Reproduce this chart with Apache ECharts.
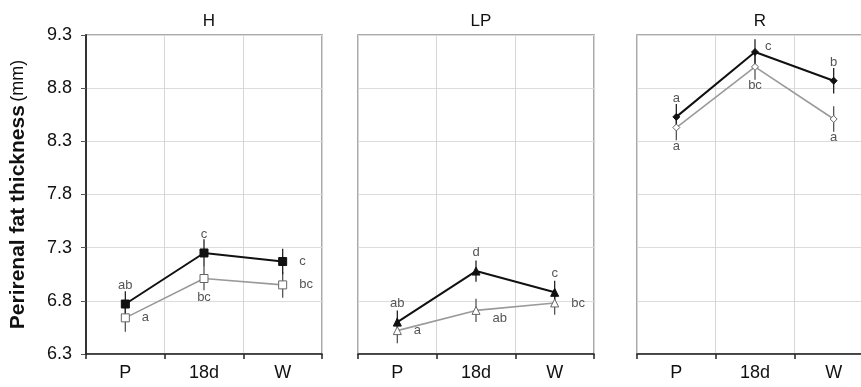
<!DOCTYPE html>
<html>
<head>
<meta charset="utf-8">
<script src="https://cdn.jsdelivr.net/npm/echarts@6/dist/echarts.min.js"></script>
<style>html,body{margin:0;padding:0;background:#fff}#c{width:861px;height:387px}</style>
</head>
<body>
<div id="c"></div>
<script>
const categories = ['P', '18d', 'W'];
const panelNames = ['H', 'LP', 'R'];
const yTicks = [6.3, 6.8, 7.3, 7.8, 8.3, 8.8, 9.3];
const yAxisTitle = 'Perirenal fat thickness';
const yAxisUnit = '(mm)';

const H_black = [6.77, 7.25, 7.17];
const H_blackErr = [0.12, 0.13, 0.12];
const H_grey = [6.64, 7.01, 6.95];
const H_greyErr = [0.13, 0.11, 0.12];
const H_blackLetters = ['ab', 'c', 'c'];
const H_greyLetters = ['a', 'bc', 'bc'];

const LP_black = [6.60, 7.08, 6.88];
const LP_blackErr = [0.11, 0.10, 0.11];
const LP_grey = [6.52, 6.71, 6.78];
const LP_greyErr = [0.12, 0.11, 0.11];
const LP_blackLetters = ['ab', 'd', 'c'];
const LP_greyLetters = ['a', 'ab', 'bc'];

const R_black = [8.53, 9.14, 8.87];
const R_blackErr = [0.12, 0.12, 0.12];
const R_grey = [8.43, 9.00, 8.51];
const R_greyErr = [0.12, 0.12, 0.12];
const R_blackLetters = ['a', 'c', 'b'];
const R_greyLetters = ['a', 'bc', 'a'];

// ---- styling / layout (not data) ----
const FONT = 'Liberation Sans, Arial, sans-serif';
const panels = [
  { name: panelNames[0], black: H_black, blackErr: H_blackErr, grey: H_grey, greyErr: H_greyErr,
    bl: H_blackLetters, gl: H_greyLetters, symbol: 'rect', size: 8,
    bPos: ['top', 'top', 'right'], gPos: ['right', 'bottom', 'right'] },
  { name: panelNames[1], black: LP_black, blackErr: LP_blackErr, grey: LP_grey, greyErr: LP_greyErr,
    bl: LP_blackLetters, gl: LP_greyLetters, symbol: 'triangle', size: 8,
    bPos: ['top', 'top', 'top'], gPos: ['right', 'rightDown', 'right'] },
  { name: panelNames[2], black: R_black, blackErr: R_blackErr, grey: R_grey, greyErr: R_greyErr,
    bl: R_blackLetters, gl: R_greyLetters, symbol: 'diamond', size: 7,
    bPos: ['top', 'rightUp', 'top'], gPos: ['bottom', 'bottom', 'bottom'] }
];
const gridLefts = [86, 358, 637];
const gridWidth = 236;
const gridTop = 35;
const gridHeight = 319;

function labelCfg(pos, text) {
  const base = { show: true, formatter: text, fontSize: 13, color: '#555', fontFamily: FONT };
  if (pos === 'top') return Object.assign(base, { position: 'top', distance: 8 });
  if (pos === 'bottom') return Object.assign(base, { position: 'bottom', distance: 8 });
  if (pos === 'right') return Object.assign(base, { position: 'right', distance: 12 });
  if (pos === 'rightDown') return Object.assign(base, { position: 'right', distance: 12, offset: [0, 8] });
  if (pos === 'rightUp') return Object.assign(base, { position: 'right', distance: 6, offset: [0, -6] });
  return base;
}

const grid = [], xAxis = [], yAxis = [], series = [], title = [];
panels.forEach((p, k) => {
  grid.push({ left: gridLefts[k], top: gridTop, width: gridWidth, height: gridHeight,
    show: true, borderColor: '#8f8f8f', borderWidth: 1.5, backgroundColor: 'transparent',
    containLabel: false, outerBoundsMode: 'none' });
  title.push({ text: p.name, left: gridLefts[k] + gridWidth / 2, top: 8, textAlign: 'center',
    textStyle: { fontSize: 17, fontWeight: 'normal', color: '#111', fontFamily: FONT } });
  xAxis.push({ type: 'category', gridIndex: k, data: categories, boundaryGap: true,
    axisLine: { show: true, lineStyle: { color: '#222', width: 1.5 } },
    axisTick: { show: true, length: 5, lineStyle: { color: '#222', width: 1.5 } },
    axisLabel: { fontSize: 18, color: '#111', margin: 10, fontFamily: FONT },
    splitLine: { show: true, lineStyle: { color: '#d6d6d6', width: 1 } } });
  yAxis.push({ type: 'value', gridIndex: k, min: yTicks[0], max: yTicks[yTicks.length - 1], interval: 0.5,
    axisLine: { show: k === 0, lineStyle: { color: '#333', width: 2 } },
    axisTick: { show: k === 0, length: 5, lineStyle: { color: '#555' } },
    axisLabel: { show: k === 0, fontSize: 18, color: '#111', margin: 14, fontFamily: FONT,
      formatter: v => v.toFixed(1) },
    splitLine: { show: true, lineStyle: { color: '#dcdcdc', width: 1 } },
    name: k === 0 ? '{b|' + yAxisTitle + '} {n|' + yAxisUnit + '}' : '',
    nameLocation: 'middle', nameRotate: 90, nameGap: 57,
    nameTextStyle: { rich: {
      b: { fontSize: 21, fontWeight: 'bold', color: '#111', fontFamily: FONT },
      n: { fontSize: 18, fontWeight: 'normal', color: '#111', fontFamily: FONT } } } });

  const errRender = (color) => function (params, api) {
    const x = api.value(0);
    const lo = api.coord([x, api.value(1)]);
    const hi = api.coord([x, api.value(2)]);
    return { type: 'line', shape: { x1: lo[0], y1: lo[1], x2: hi[0], y2: hi[1] },
      style: { stroke: color, lineWidth: 1.3 } };
  };
  series.push({ type: 'custom', xAxisIndex: k, yAxisIndex: k, z: 1, silent: true,
    renderItem: errRender('#555'),
    data: p.grey.map((v, i) => [i, v - p.greyErr[i], v + p.greyErr[i]]) });
  series.push({ type: 'custom', xAxisIndex: k, yAxisIndex: k, z: 1, silent: true,
    renderItem: errRender('#222'),
    data: p.black.map((v, i) => [i, v - p.blackErr[i], v + p.blackErr[i]]) });
  series.push({ type: 'line', xAxisIndex: k, yAxisIndex: k, z: 3, silent: true,
    symbol: p.symbol, symbolSize: p.size,
    lineStyle: { color: '#9a9a9a', width: 1.6 },
    itemStyle: { color: '#fff', borderColor: '#666', borderWidth: 1 },
    data: p.grey.map((v, i) => ({ value: v, label: labelCfg(p.gPos[i], p.gl[i]) })) });
  series.push({ type: 'line', xAxisIndex: k, yAxisIndex: k, z: 4, silent: true,
    symbol: p.symbol, symbolSize: p.size,
    lineStyle: { color: '#111', width: 2 },
    itemStyle: { color: '#111', borderColor: '#111', borderWidth: 1 },
    data: p.black.map((v, i) => ({ value: v, label: labelCfg(p.bPos[i], p.bl[i]) })) });
});

const chart = echarts.init(document.getElementById('c'), null, { renderer: 'canvas' });
chart.setOption({ animation: false, backgroundColor: '#fff', title, grid, xAxis, yAxis, series });
</script>
</body>
</html>
